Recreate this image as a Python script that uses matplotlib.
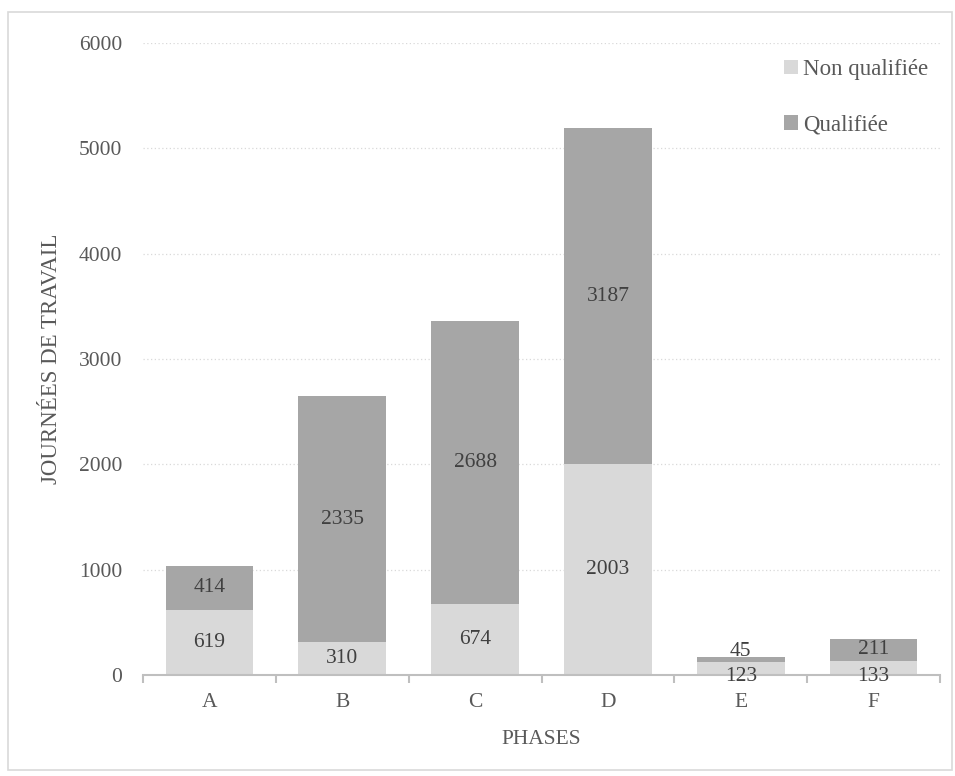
import numpy as np
import matplotlib
matplotlib.use("Agg")
import matplotlib.pyplot as plt
from matplotlib.patches import Rectangle

plt.rcParams['font.family'] = ['Liberation Serif', 'DejaVu Serif']

phases = ["A", "B", "C", "D", "E", "F"]
non_qualifiee = [619, 310, 674, 2003, 123, 133]
qualifiee = [414, 2335, 2688, 3187, 45, 211]
# small nudges (points) for labels of thin segments, as in the original
nudge_bottom = [0, 0, 0, 0, -6, -6]
nudge_top = [0, 0, 0, 0, 6, 0]

light = "#d9d9d9"
dark = "#a6a6a6"
txt = "#595959"
fs = 15.5

fig = plt.figure(figsize=(9.55, 7.76), dpi=100)
ax = fig.add_axes([143/955, 101/776, 797/955, 632/776])

# outer chart border
fig.patches.append(Rectangle((8/955, 6/776), 944/955, 758/776, transform=fig.transFigure,
                             fill=False, edgecolor="#d9d9d9", linewidth=1.2))

x = np.arange(len(phases))
w = 0.66
ax.bar(x, non_qualifiee, w, color=light, label="Non qualifiée", zorder=3)
ax.bar(x, qualifiee, w, bottom=non_qualifiee, color=dark, label="Qualifiée", zorder=3)

for i in range(len(phases)):
    ax.annotate(str(non_qualifiee[i]), (x[i], non_qualifiee[i] / 2), xytext=(0, nudge_bottom[i]),
                textcoords="offset points", ha="center", va="center",
                fontsize=fs, color="#404040", zorder=6)
    ax.annotate(str(qualifiee[i]), (x[i], non_qualifiee[i] + qualifiee[i] / 2), xytext=(0, nudge_top[i]),
                textcoords="offset points", ha="center", va="center",
                fontsize=fs, color="#404040", zorder=6)

ax.set_xlim(-0.5, len(phases) - 0.5)
ax.set_ylim(0, 6000)
ax.set_yticks(np.arange(0, 6001, 1000))
ax.yaxis.grid(True, linestyle=(0, (1, 2)), color="#d9d9d9", linewidth=0.9, zorder=0)

for s in ["top", "right", "left"]:
    ax.spines[s].set_visible(False)
ax.spines["bottom"].set_color("#bfbfbf")
ax.spines["bottom"].set_linewidth(1.5)
ax.spines["bottom"].set_zorder(5)

ax.set_xticks(x)
ax.set_xticklabels(phases)
ax.set_xticks(np.arange(-0.5, len(phases), 1.0), minor=True)
ax.tick_params(axis="x", which="major", length=0, pad=13, labelsize=fs, labelcolor=txt)
ax.tick_params(axis="x", which="minor", length=6, width=1.5, color="#bfbfbf")
ax.tick_params(axis="y", length=0, pad=15, labelsize=fs, labelcolor=txt)

ax.set_xlabel("PHASES", fontsize=fs, color=txt, labelpad=13)
ax.set_ylabel("JOURNÉES DE TRAVAIL", fontsize=16.5, color=txt)
ax.yaxis.set_label_coords(-0.102, 0.5)

leg = ax.legend(loc="upper right", bbox_to_anchor=(1.005, 1.0), frameon=False, fontsize=16.5,
                handlelength=0.6, handleheight=0.6, handletextpad=0.2, labelspacing=1.5,
                borderaxespad=0.3)
for t in leg.get_texts():
    t.set_color(txt)

fig.savefig("out.png", dpi=100)
